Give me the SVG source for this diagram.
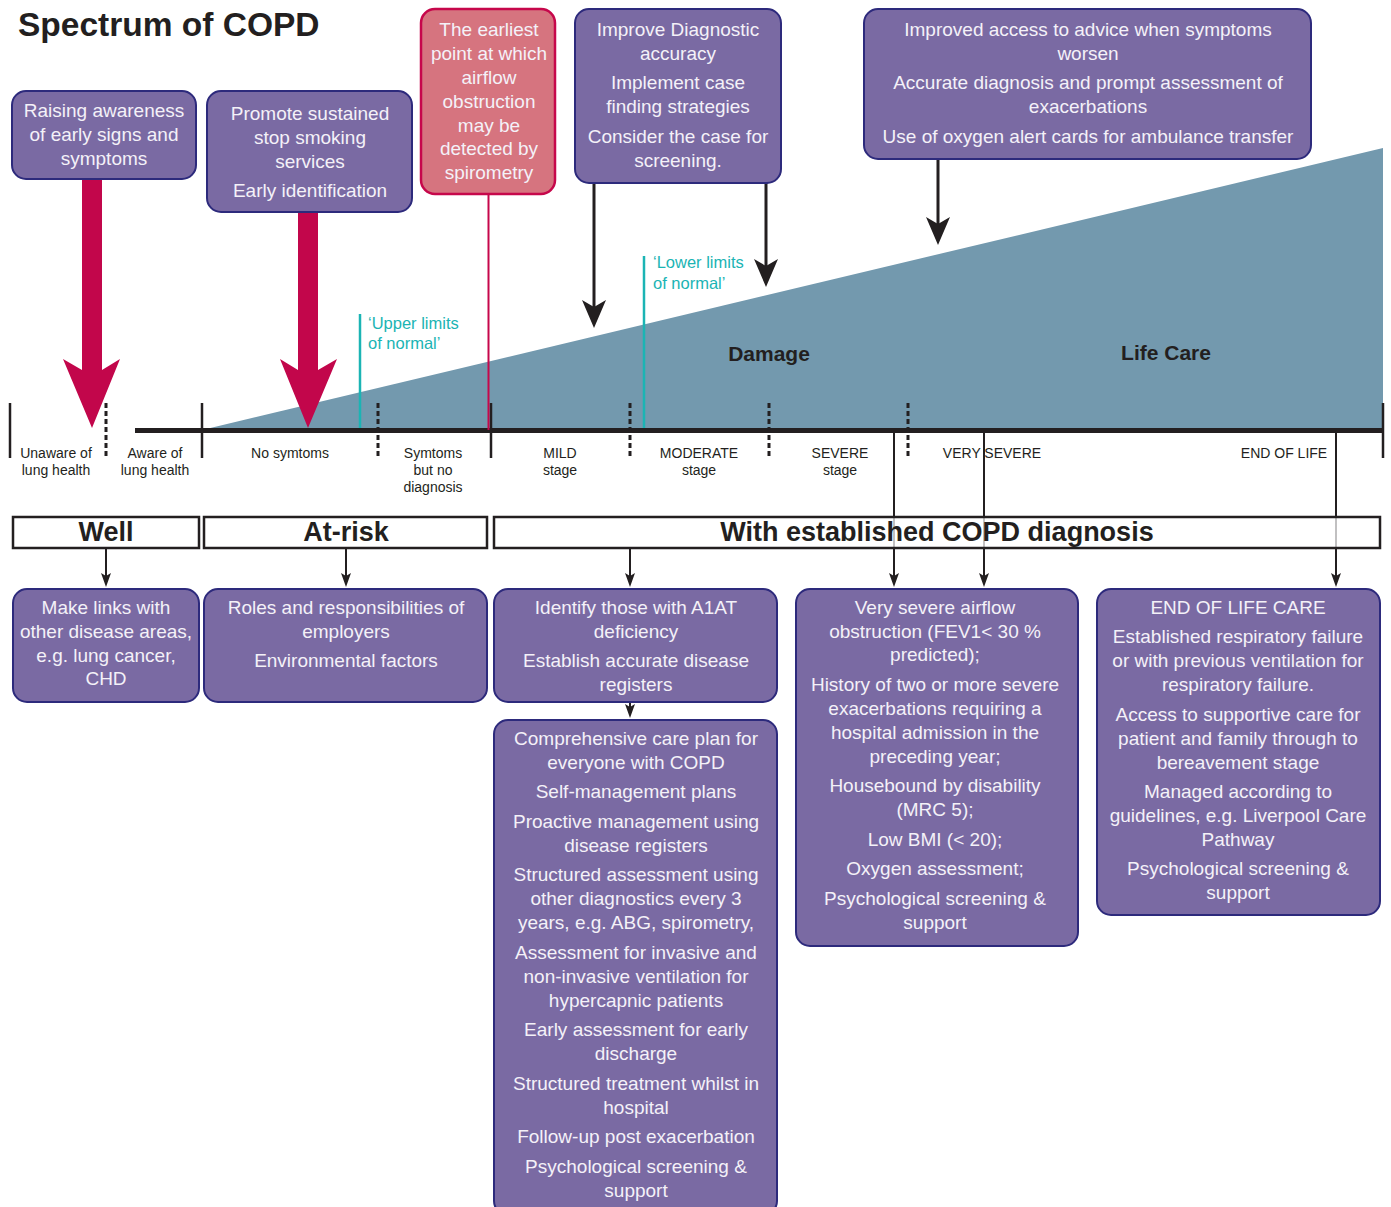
<svg xmlns="http://www.w3.org/2000/svg" width="1391" height="1207" viewBox="0 0 1391 1207">
<defs>
<style>
.box{fill:#7a6aa3;stroke:#2d2a7c;stroke-width:2}
.red{fill:#d6747f;stroke:#c6074b;stroke-width:2.5}
.bt{font-family:"Liberation Sans",Arial,sans-serif;font-size:19px;fill:#f4f1f8;text-anchor:middle}
.ax{font-family:"Liberation Sans",Arial,sans-serif;font-size:14px;fill:#231f20;text-anchor:middle}
.tl{font-family:"Liberation Sans",Arial,sans-serif;font-size:16.5px;fill:#1bb4b4}
.big{font-family:"Liberation Sans",Arial,sans-serif;font-size:21px;font-weight:bold;fill:#231f20;text-anchor:middle}
.band{fill:#fff;fill-opacity:0.72;stroke:#231f20;stroke-width:2.5}
.bandt{font-family:"Liberation Sans",Arial,sans-serif;font-size:27px;font-weight:bold;fill:#231f20;text-anchor:middle}
.tick{stroke:#231f20;stroke-width:2.5}
.dash{stroke:#231f20;stroke-width:3;stroke-dasharray:5 3}
.bl{stroke:#231f20;stroke-width:3;fill:none}
.sl{stroke:#231f20;stroke-width:2;fill:none}
</style>
<marker id="bigHead" viewBox="0 0 28 24" refX="14" refY="12" markerWidth="28" markerHeight="24" markerUnits="userSpaceOnUse" orient="auto">
<path d="M0,0 L28,12 L0,24 L7,12 Z" fill="#231f20"/>
</marker>
<marker id="smallHead" viewBox="0 0 14 10" refX="7" refY="5" markerWidth="14" markerHeight="10" markerUnits="userSpaceOnUse" orient="auto">
<path d="M0,0 L14,5 L0,10 L3,5 Z" fill="#231f20"/>
</marker>
</defs>
<rect width="1391" height="1207" fill="#fff"/>

<text x="18" y="36" font-family="'Liberation Sans',Arial,sans-serif" font-size="33.5" font-weight="bold" fill="#231f20">Spectrum of COPD</text>

<!-- Progression wedge -->
<polygon id="wedge" points="202,430 1383,148 1383,430" fill="#7399ae"/>
<text class="big" x="769" y="361">Damage</text>
<text class="big" x="1166" y="360">Life Care</text>

<!-- limits of normal -->
<g id="upper-limits">
<line x1="360" y1="314" x2="360" y2="430" stroke="#1bb4b4" stroke-width="2.5"/>
<text class="tl" x="368" y="329">‘Upper limits</text>
<text class="tl" x="368" y="349">of normal’</text>
</g>
<g id="lower-limits">
<line x1="644" y1="256" x2="644" y2="430" stroke="#1bb4b4" stroke-width="2.5"/>
<text class="tl" x="653" y="268">‘Lower limits</text>
<text class="tl" x="653" y="289">of normal’</text>
</g>

<!-- axis -->
<g id="axis">
<line x1="135" y1="430.5" x2="1384" y2="430.5" stroke="#231f20" stroke-width="5"/>
<line class="tick" x1="10" y1="403" x2="10" y2="458"/>
<line class="tick" x1="202" y1="403" x2="202" y2="458"/>
<line class="tick" x1="491" y1="403" x2="491" y2="458"/>
<line class="tick" x1="1383" y1="403" x2="1383" y2="458"/>
<line class="dash" x1="106" y1="403" x2="106" y2="458"/>
<line class="dash" x1="378" y1="403" x2="378" y2="458"/>
<line class="dash" x1="630" y1="403" x2="630" y2="458"/>
<line class="dash" x1="769" y1="403" x2="769" y2="458"/>
<line class="dash" x1="908" y1="403" x2="908" y2="458"/>
<text class="ax" x="56" y="458">Unaware of</text>
<text class="ax" x="56" y="475">lung health</text>
<text class="ax" x="155" y="458">Aware of</text>
<text class="ax" x="155" y="475">lung health</text>
<text class="ax" x="290" y="458">No symtoms</text>
<text class="ax" x="433" y="458">Symtoms</text>
<text class="ax" x="433" y="475">but no</text>
<text class="ax" x="433" y="492">diagnosis</text>
<text class="ax" x="560" y="458">MILD</text>
<text class="ax" x="560" y="475">stage</text>
<text class="ax" x="699" y="458">MODERATE</text>
<text class="ax" x="699" y="475">stage</text>
<text class="ax" x="840" y="458">SEVERE</text>
<text class="ax" x="840" y="475">stage</text>
<text class="ax" x="992" y="458">VERY SEVERE</text>
<text class="ax" x="1284" y="458">END OF LIFE</text>
</g>

<!-- connectors -->
<g id="connectors">
<polygon points="82,179 102,179 102,370 120,359 92,428 63,359 82,370" fill="#c2064b"/>
<polygon points="298,212 318,212 318,370 337,359 308,428 280,359 298,370" fill="#c2064b"/>
<line x1="488.5" y1="194" x2="488.5" y2="430" stroke="#c6074b" stroke-width="2"/>
<line class="bl" x1="594" y1="183" x2="594" y2="314" marker-end="url(#bigHead)"/>
<line class="bl" x1="766" y1="183" x2="766" y2="273" marker-end="url(#bigHead)"/>
<line class="bl" x1="938" y1="159" x2="938" y2="231" marker-end="url(#bigHead)"/>
<line class="sl" x1="894" y1="430" x2="894" y2="580" marker-end="url(#smallHead)" stroke-width="2.5"/>
<line class="sl" x1="984" y1="430" x2="984" y2="580" marker-end="url(#smallHead)" stroke-width="2.5"/>
<line class="sl" x1="1336" y1="430" x2="1336" y2="580" marker-end="url(#smallHead)" stroke-width="2.5"/>
<line class="sl" x1="106" y1="548" x2="106" y2="580" marker-end="url(#smallHead)"/>
<line class="sl" x1="346" y1="548" x2="346" y2="580" marker-end="url(#smallHead)"/>
<line class="sl" x1="630" y1="548" x2="630" y2="580" marker-end="url(#smallHead)"/>
<line class="sl" x1="630" y1="702" x2="630" y2="711" marker-end="url(#smallHead)"/>
</g>

<!-- bands -->
<g id="band-well">
<rect class="band" x="13" y="517" width="186" height="31"/>
<text class="bandt" x="106" y="541">Well</text>
</g>
<g id="band-atrisk">
<rect class="band" x="204" y="517" width="283" height="31"/>
<text class="bandt" x="346" y="541">At-risk</text>
</g>
<g id="band-copd">
<rect class="band" x="494" y="517" width="886" height="31"/>
<text class="bandt" x="937" y="541">With established COPD diagnosis</text>
</g>

<!-- top nodes -->
<g id="raising-awareness">
<rect class="box" x="12" y="91" width="184" height="88" rx="14"/>
<text class="bt" x="104" y="117">Raising awareness</text>
<text class="bt" x="104" y="141">of early signs and</text>
<text class="bt" x="104" y="165">symptoms</text>
</g>
<g id="stop-smoking">
<rect class="box" x="207" y="91" width="205" height="121" rx="14"/>
<text class="bt" x="310" y="120">Promote sustained</text>
<text class="bt" x="310" y="144">stop smoking</text>
<text class="bt" x="310" y="168">services</text>
<text class="bt" x="310" y="197">Early identification</text>
</g>
<g id="earliest-point">
<rect class="red" x="421" y="9" width="134" height="185" rx="14"/>
<text class="bt" x="489" y="36">The earliest</text>
<text class="bt" x="489" y="60">point at which</text>
<text class="bt" x="489" y="84">airflow</text>
<text class="bt" x="489" y="108">obstruction</text>
<text class="bt" x="489" y="132">may be</text>
<text class="bt" x="489" y="155">detected by</text>
<text class="bt" x="489" y="179">spirometry</text>
</g>
<g id="diagnostic-accuracy">
<rect class="box" x="575" y="9" width="206" height="174" rx="14"/>
<text class="bt" x="678" y="36">Improve Diagnostic</text>
<text class="bt" x="678" y="60">accuracy</text>
<text class="bt" x="678" y="89">Implement case</text>
<text class="bt" x="678" y="113">finding strategies</text>
<text class="bt" x="678" y="143">Consider the case for</text>
<text class="bt" x="678" y="167">screening.</text>
</g>
<g id="improved-access">
<rect class="box" x="864" y="9" width="447" height="150" rx="14"/>
<text class="bt" x="1088" y="36">Improved access to advice when symptoms</text>
<text class="bt" x="1088" y="60">worsen</text>
<text class="bt" x="1088" y="89">Accurate diagnosis and prompt assessment of</text>
<text class="bt" x="1088" y="113">exacerbations</text>
<text class="bt" x="1088" y="143">Use of oxygen alert cards for ambulance transfer</text>
</g>

<!-- bottom nodes -->
<g id="make-links">
<rect class="box" x="13" y="589" width="186" height="113" rx="14"/>
<text class="bt" x="106" y="614">Make links with</text>
<text class="bt" x="106" y="638">other disease areas,</text>
<text class="bt" x="106" y="662">e.g. lung cancer,</text>
<text class="bt" x="106" y="685">CHD</text>
</g>
<g id="roles">
<rect class="box" x="204" y="589" width="283" height="113" rx="14"/>
<text class="bt" x="346" y="614">Roles and responsibilities of</text>
<text class="bt" x="346" y="638">employers</text>
<text class="bt" x="346" y="667">Environmental factors</text>
</g>
<g id="identify-a1at">
<rect class="box" x="494" y="589" width="283" height="113" rx="14"/>
<text class="bt" x="636" y="614">Identify those with A1AT</text>
<text class="bt" x="636" y="638">deficiency</text>
<text class="bt" x="636" y="667">Establish accurate disease</text>
<text class="bt" x="636" y="691">registers</text>
</g>
<g id="care-plan">
<rect class="box" x="494" y="720" width="283" height="495" rx="14"/>
<text class="bt" x="636" y="745">Comprehensive care plan for</text>
<text class="bt" x="636" y="769">everyone with COPD</text>
<text class="bt" x="636" y="798">Self-management plans</text>
<text class="bt" x="636" y="828">Proactive management using</text>
<text class="bt" x="636" y="852">disease registers</text>
<text class="bt" x="636" y="881">Structured assessment using</text>
<text class="bt" x="636" y="905">other diagnostics every 3</text>
<text class="bt" x="636" y="929">years, e.g. ABG, spirometry,</text>
<text class="bt" x="636" y="959">Assessment for invasive and</text>
<text class="bt" x="636" y="983">non-invasive ventilation for</text>
<text class="bt" x="636" y="1007">hypercapnic patients</text>
<text class="bt" x="636" y="1036">Early assessment for early</text>
<text class="bt" x="636" y="1060">discharge</text>
<text class="bt" x="636" y="1090">Structured treatment whilst in</text>
<text class="bt" x="636" y="1114">hospital</text>
<text class="bt" x="636" y="1143">Follow-up post exacerbation</text>
<text class="bt" x="636" y="1173">Psychological screening &amp;</text>
<text class="bt" x="636" y="1197">support</text>
</g>
<g id="very-severe">
<rect class="box" x="796" y="589" width="282" height="357" rx="14"/>
<text class="bt" x="935" y="614">Very severe airflow</text>
<text class="bt" x="935" y="638">obstruction (FEV1&lt; 30 %</text>
<text class="bt" x="935" y="661">predicted);</text>
<text class="bt" x="935" y="691">History of two or more severe</text>
<text class="bt" x="935" y="715">exacerbations requiring a</text>
<text class="bt" x="935" y="739">hospital admission in the</text>
<text class="bt" x="935" y="763">preceding year;</text>
<text class="bt" x="935" y="792">Housebound by disability</text>
<text class="bt" x="935" y="816">(MRC 5);</text>
<text class="bt" x="935" y="846">Low BMI (&lt; 20);</text>
<text class="bt" x="935" y="875">Oxygen assessment;</text>
<text class="bt" x="935" y="905">Psychological screening &amp;</text>
<text class="bt" x="935" y="929">support</text>
</g>
<g id="end-of-life-care">
<rect class="box" x="1097" y="589" width="283" height="326" rx="14"/>
<text class="bt" x="1238" y="614">END OF LIFE CARE</text>
<text class="bt" x="1238" y="643">Established respiratory failure</text>
<text class="bt" x="1238" y="667">or with previous ventilation for</text>
<text class="bt" x="1238" y="691">respiratory failure.</text>
<text class="bt" x="1238" y="721">Access to supportive care for</text>
<text class="bt" x="1238" y="745">patient and family through to</text>
<text class="bt" x="1238" y="769">bereavement stage</text>
<text class="bt" x="1238" y="798">Managed according to</text>
<text class="bt" x="1238" y="822">guidelines, e.g. Liverpool Care</text>
<text class="bt" x="1238" y="846">Pathway</text>
<text class="bt" x="1238" y="875">Psychological screening &amp;</text>
<text class="bt" x="1238" y="899">support</text>
</g>
</svg>
